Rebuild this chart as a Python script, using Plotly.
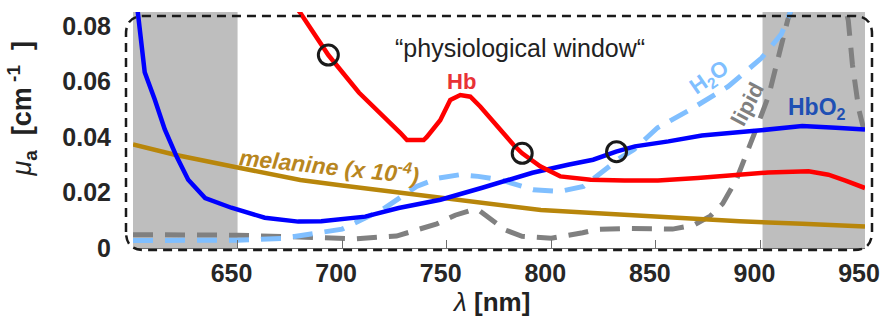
import plotly.graph_objects as go

# ---- absorption spectra (mu_a in cm^-1 versus wavelength in nm) ----
wl_hbo2 = [600, 602.4, 604, 605.6, 610.4, 615.2, 620.8, 626.4, 634.5, 647, 663, 679, 690,
           703, 711, 727, 747, 767, 791, 808, 820, 831, 840, 856, 872, 896, 920, 936, 950]
mu_hbo2 = [0.100, 0.0855, 0.074, 0.0633, 0.0535, 0.0427, 0.033, 0.0246, 0.018, 0.0145, 0.0109,
           0.0095, 0.0096, 0.0106, 0.0113, 0.0144, 0.0174, 0.0217, 0.0271, 0.0300, 0.0318,
           0.0347, 0.0366, 0.0384, 0.0405, 0.0421, 0.0439, 0.0433, 0.0427]

wl_hb = [668, 679.8, 693.4, 708, 727.8, 731, 739, 740.5, 746.9, 751.7, 756.5, 761.3, 766.1,
         775.7, 782, 786.1, 794.7, 804.3, 818.8, 835, 851, 870, 887.5, 903.7, 923, 932.5, 941, 950]
mu_hb = [0.096, 0.0849, 0.0695, 0.056, 0.0415, 0.0389, 0.0389, 0.040, 0.046, 0.0533, 0.0551,
         0.0545, 0.0509, 0.0425, 0.0371, 0.0341, 0.0294, 0.0258, 0.0246, 0.0243, 0.0243,
         0.0252, 0.0264, 0.0272, 0.0276, 0.0264, 0.0242, 0.0216]

wl_water = [600, 650, 672, 686, 700, 719, 735.6, 746, 756.3, 765, 775.5, 791.3, 804.3, 815.4,
            823.6, 833.2, 839.4, 850.8, 866.8, 884.6, 900.5, 910, 913.5, 918]
mu_water = [0.0027, 0.0028, 0.0035, 0.005, 0.0068, 0.0137, 0.0222, 0.0252, 0.0264, 0.0258,
            0.0246, 0.021, 0.0204, 0.0222, 0.0271, 0.0326, 0.0354, 0.0433, 0.050, 0.0582,
            0.0684, 0.077, 0.0835, 0.092]

wl_lipid = [600, 650, 682.5, 706, 726, 745.3, 754, 762, 766, 771, 778, 786, 800, 815, 822,
            838, 858, 868, 876, 882, 888.5, 897, 904, 909, 913, 920, 930, 937, 942, 944, 947, 950]
mu_lipid = [0.0048, 0.0046, 0.0039, 0.0033, 0.0043, 0.0087, 0.0118, 0.0137, 0.0132, 0.0105,
            0.0065, 0.0042, 0.0035, 0.0055, 0.0067, 0.0070, 0.0068, 0.0082, 0.0115, 0.016,
            0.0246, 0.041, 0.055, 0.070, 0.082, 0.098, 0.108, 0.098, 0.082, 0.066, 0.050, 0.041]

wl_mel = [600, 620, 650, 680, 700, 730, 760, 795, 820, 850, 890, 920, 950]
mu_mel = [0.0373, 0.0336, 0.029, 0.0245, 0.0225, 0.0196, 0.0168, 0.0137, 0.0126, 0.0112,
          0.0096, 0.0087, 0.0077]

# isosbestic / crossing markers
wl_mark = [693.4, 786.1, 831.2]
mu_mark = [0.0695, 0.0341, 0.0347]

x_ticks = [650, 700, 750, 800, 850, 900, 950]
y_ticks = [0, 0.02, 0.04, 0.06, 0.08]
y_tick_text = ["0", "0.02", "0.04", "0.06", "0.08"]

X_RANGE = [600, 950]
Y_RANGE = [0, 0.085]
SHADED = [(600, 650), (901, 950)]

FONT = "Liberation Sans, Arial, Helvetica, sans-serif"
BLUE = "#0000ff"
RED = "#ff0000"
GOLD = "#b8860b"
WATER = "#80bfff"
LIPID = "#808080"

fig = go.Figure()

fig.add_trace(go.Scatter(x=wl_lipid, y=mu_lipid, mode="lines",
                         line=dict(color=LIPID, width=5, dash="20px,12px")))
fig.add_trace(go.Scatter(x=wl_water, y=mu_water, mode="lines",
                         line=dict(color=WATER, width=5, dash="20px,12px")))
fig.add_trace(go.Scatter(x=wl_mel, y=mu_mel, mode="lines",
                         line=dict(color=GOLD, width=4.5)))
fig.add_trace(go.Scatter(x=wl_hbo2, y=mu_hbo2, mode="lines",
                         line=dict(color=BLUE, width=4.5)))
fig.add_trace(go.Scatter(x=wl_hb, y=mu_hb, mode="lines",
                         line=dict(color=RED, width=4.5)))
fig.add_trace(go.Scatter(x=wl_mark, y=mu_mark, mode="markers",
                         marker=dict(symbol="circle-open", size=20, color="#1a1a1a",
                                     line=dict(width=3, color="#1a1a1a"))))

# shaded spectral bands outside the window
for a, b in SHADED:
    fig.add_shape(type="rect", xref="x", yref="paper", x0=a, x1=b, y0=0, y1=1,
                  fillcolor="#bebebe", line=dict(width=0), layer="below")

# dashed rounded frame around the plot area (paper units)
PW, PH = 732.0, 236.0          # plot area size in px
def px(dx):                     # horizontal px offset -> paper
    return dx / PW
def py(dy):                     # vertical px offset -> paper
    return dy / PH
L, R = px(-7), 1 + px(7)
B, T = py(-2), 1 - py(4)
rx, ry = px(18), py(18)
frame = (f"M {L},{B+ry} L {L},{T-ry} Q {L},{T} {L+rx},{T} "
         f"L {R-rx},{T} Q {R},{T} {R},{T-ry} "
         f"L {R},{B+ry} Q {R},{B} {R-rx},{B} "
         f"L {L+rx},{B} Q {L},{B} {L},{B+ry} Z")
fig.add_shape(type="path", xref="paper", yref="paper", path=frame,
              line=dict(color="#1a1a1a", width=2.5, dash="9px,6px"), layer="above")

ann = [
    dict(x=785, y=0.072, text="\u201cphysiological window\u201c",
         font=dict(size=25, color="#222222")),
    dict(x=757.3, y=0.0598, text="<b>Hb</b>", font=dict(size=22, color="#e83236")),
    dict(x=912, y=0.0504, text="<b>HbO<sub>2</sub></b>", xanchor="left",
         font=dict(size=23, color="#1f50b4")),
    dict(x=876, y=0.0612, text="<b>H<sub>2</sub>O</b>", textangle=-35,
         font=dict(size=22, color=WATER)),
    dict(x=894, y=0.0519, text="<b>lipid</b>", textangle=-62,
         font=dict(size=22, color=LIPID)),
    dict(x=694, y=0.0299, text="<b><i>melanine (x 10<sup>-4</sup>)</i></b>", textangle=6,
         font=dict(size=23, color="#b8861f")),
]
for a in ann:
    a.update(xref="x", yref="y", showarrow=False)
    fig.add_annotation(**a)

# axis titles
fig.add_annotation(xref="paper", yref="paper", x=0.489, y=-0.229, showarrow=False,
                   xanchor="center", yanchor="middle",
                   text="<i>\u03bb</i> <b>[nm]</b>", font=dict(size=26, color="#222222"))
fig.add_annotation(xref="paper", yref="paper", x=-0.152, y=0.59, showarrow=False,
                   xanchor="center", yanchor="middle", textangle=-90,
                   text=("<i>\u03bc</i><sub><b>a</b></sub>\u00a0\u00a0"
                         "<b>[cm<sup>\u00a0-1</sup>\u00a0\u00a0]</b>"),
                   font=dict(size=27, color="#222222"))

fig.update_layout(
    width=883, height=320,
    margin=dict(l=133, r=18, t=12, b=72, autoexpand=False),
    paper_bgcolor="white", plot_bgcolor="white",
    showlegend=False,
    font=dict(family=FONT),
    xaxis=dict(range=X_RANGE, tickvals=x_ticks, ticks="inside", ticklen=8,
               tickcolor="#6e6e6e", showline=True, linecolor="#6e6e6e", linewidth=1.2,
               showgrid=False, zeroline=False, ticklabelshift=-6, ticklabelstandoff=3,
               automargin=False,
               tickfont=dict(size=25, color="#262626", family=FONT, weight="bold")),
    yaxis=dict(range=Y_RANGE, tickvals=y_ticks, ticktext=y_tick_text, ticks="",
               showline=False, showgrid=False, zeroline=False, ticklabelstandoff=21,
               automargin=False,
               tickfont=dict(size=25, color="#262626", family=FONT, weight="bold")),
)

fig.write_html("out.html")
